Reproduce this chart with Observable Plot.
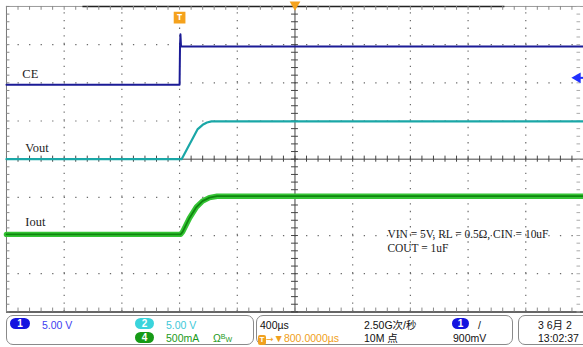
<!DOCTYPE html>
<html><head><meta charset="utf-8">
<script src="https://cdn.jsdelivr.net/npm/d3@7"></script>
<script src="https://cdn.jsdelivr.net/npm/@observablehq/plot@0.6"></script>
<style>
body{margin:0;background:#fff;font-family:"Liberation Sans",Arial,sans-serif;overflow:hidden;}
#wrap{position:relative;width:583px;height:347px;overflow:hidden;}
#chart{position:absolute;left:0;top:0;}
#bar{position:absolute;left:0;top:315px;width:583px;height:32px;font-size:10.5px;}
.box{position:absolute;top:0;height:28px;border:1px solid #8a8a8a;border-radius:7px;}
.t{position:absolute;white-space:nowrap;line-height:12px;}
.badge{position:absolute;height:11px;border-radius:6px;color:#fff;font-weight:bold;text-align:center;line-height:11px;font-size:10px;}
.cjk{font-family:"Liberation Sans","Noto Sans CJK SC",sans-serif;}
</style></head><body>
<div id="wrap">
  <div id="chart"></div>
  <div id="bar">
    <div class="box" style="left:6px;width:246px;"></div>
    <div class="box" style="left:256px;width:255px;"></div>
    <div class="box" style="left:518px;width:90px;"></div>
    <div class="badge" style="left:10px;top:3px;width:20px;background:#1414e0;">1</div>
    <div class="t" style="left:42px;top:4px;color:#4040f0;">5.00 V</div>
    <div class="badge" style="left:135px;top:3px;width:19px;background:#3ad4dc;">2</div>
    <div class="t" style="left:166px;top:4px;color:#3cc8d8;">5.00 V</div>
    <div class="badge" style="left:135px;top:17px;width:19px;background:#169a16;">4</div>
    <div class="t" style="left:166px;top:17px;color:#1a9a1a;">500mA</div>
    <div class="t" style="left:213px;top:16px;color:#1a9a1a;">Ω<span style="font-size:7px;vertical-align:3px;">B</span><span style="font-size:7px;">W</span></div>
    <div class="t" style="left:260px;top:4px;color:#111;">400µs</div>
    <div class="t" style="left:258px;top:17px;color:#f0a020;"><span style="display:inline-block;width:8px;height:10px;background:#f0a020;color:#fff;font-size:8px;line-height:10px;text-align:center;border-radius:2px;font-weight:bold;">T</span><span style="font-family:'DejaVu Sans';font-size:9px;">→</span>▼800.0000µs</div>
    <div class="t cjk" style="left:364px;top:4px;color:#111;">2.50G次/秒</div>
    <div class="t cjk" style="left:364px;top:17px;color:#111;">10M 点</div>
    <div class="badge" style="left:452px;top:3px;width:17px;background:#1414e0;">1</div>
    <div class="t" style="left:478px;top:4px;color:#111;">/</div>
    <div class="t" style="left:453px;top:17px;color:#111;">900mV</div>
    <div class="t cjk" style="left:538px;top:4px;color:#111;">3 6月 2</div>
    <div class="t" style="left:538px;top:17px;color:#111;">13:02:37</div>
  </div>
</div>
<script>
// ---- channel settings ----
const timePerDiv = 400;            // µs / div
const triggerDelay = 800;          // µs (centre of screen)
const ceScale = 5, ceOffset = 1.95;      // V/div, div
const voutScale = 5, voutOffset = 0.0;   // V/div, div
const ioutScale = 500, ioutOffset = -1.97; // mA/div, div
const triggerLevel = 0.9;          // V on CH1

// ---- traces (time in µs relative to trigger) ----
const ceTime = [-1200, 0, 3, 6, 10, 2800];
const ceVolt = [0, 0, 5.0, 6.6, 5.0, 5.0];

const voutTime = [-1200, 14, 124, 160, 190, 221, 2800];
const voutVolt = [0, 0, 3.9, 4.5, 4.8, 4.95, 4.95];

const ioutTime = [-1200, 7, 21, 69, 117, 159, 207, 260, 2800];
const ioutAmp  = [0, 0, 33, 215, 358, 436, 482, 500, 500];

// ---- annotations ----
const labelText = ["CE", "Vout", "Iout"];
const labelT = [-1090, -1069, -1069];
const labelDiv = [2.223, 0.295, -1.634];
const noteText = ["VIN = 5V, RL = 0.5Ω, CIN = 10uF", "COUT = 1uF"];
const noteT = [1441, 1441];
const noteDiv = [-1.975, -2.34];

const ce = ceTime.map((t, i) => ({t, y: ceVolt[i] / ceScale + ceOffset}));
const vout = voutTime.map((t, i) => ({t, y: voutVolt[i] / voutScale + voutOffset}));
const iout = ioutTime.map((t, i) => ({t, y: ioutAmp[i] / ioutScale + ioutOffset}));
const labels = labelText.map((s, i) => ({s, t: labelT[i], y: labelDiv[i]}));
const notes = noteText.map((s, i) => ({s, t: noteT[i], y: noteDiv[i]}));

const xLeft = triggerDelay - 5 * timePerDiv, xRight = triggerDelay + 5 * timePerDiv;
const majorX = d3.range(1, 10).map(k => xLeft + k * timePerDiv).filter(t => t !== triggerDelay);
const majorY = [-3, -2, -1, 1, 2, 3];
const minorX = d3.range(xLeft, xRight + 1, timePerDiv / 5);
const minorY = d3.range(-4, 4.001, 0.2);

const grid = "#6a6a6a", axisC = "#444";
const chart = Plot.plot({
  width: 586, height: 315,
  marginLeft: 6, marginRight: 0, marginTop: 6, marginBottom: 2,
  x: {domain: [xLeft, xRight], axis: null},
  y: {domain: [-4, 4], axis: null},
  style: {background: "#fff", overflow: "visible"},
  marks: [
    Plot.ruleX(majorX, {y1: -4, y2: 4, stroke: grid, strokeWidth: 1.2, strokeDasharray: "1.3,6.375"}),
    Plot.ruleY(majorY, {x1: xLeft, x2: xRight, stroke: grid, strokeWidth: 1.2, strokeDasharray: "1.3,10.3"}),
    // centre axes
    Plot.ruleX([triggerDelay], {y1: -4, y2: 4, stroke: axisC}),
    Plot.ruleY([0], {x1: xLeft, x2: xRight, stroke: axisC}),
    Plot.ruleX(minorX, {y1: -0.08, y2: 0.08, stroke: axisC}),
    Plot.ruleY(minorY, {x1: triggerDelay - 24, x2: triggerDelay + 24, stroke: axisC}),
    // borders
    Plot.ruleX([xLeft], {y1: -4, y2: 4, stroke: "#777"}),
    Plot.ruleY([4], {x1: xLeft, x2: xRight, stroke: "#999"}),
    Plot.ruleY([4], {x1: -670, x2: 2255, stroke: "#222", strokeWidth: 1.5}),
    Plot.ruleY([-4], {x1: xLeft, x2: xRight, stroke: "#333", strokeWidth: 1.5}),
    Plot.ruleY(minorY, {x1: xLeft, x2: xLeft + 24, stroke: "#888"}),
    Plot.ruleY(minorY, {x1: xRight - 45, x2: xRight - 20, stroke: "#aaa"}),
    Plot.ruleX(minorX, {y1: 4, y2: 3.9, stroke: "#888"}),
    Plot.ruleX(minorX, {y1: -4, y2: -3.9, stroke: "#888"}),
    // traces
    Plot.line(ce, {x: "t", y: "y", stroke: "#1b1b96", strokeWidth: 2}),
    Plot.line(vout, {x: "t", y: "y", stroke: "#1aa7a7", strokeWidth: 2.2}),
    Plot.line(iout, {x: "t", y: "y", stroke: "#35c435", strokeWidth: 5.5}),
    Plot.line(iout, {x: "t", y: "y", stroke: "#0f860f", strokeWidth: 1.8}),
    // text labels
    Plot.text(labels, {x: "t", y: "y", text: "s", textAnchor: "start", fontFamily: "Liberation Serif, Times New Roman, serif", fontSize: 12.5, fill: "#222"}),
    Plot.text(notes, {x: "t", y: "y", text: "s", textAnchor: "start", fontFamily: "Liberation Serif, Times New Roman, serif", fontSize: 11.5, fill: "#222"}),
    // markers
    Plot.dot([0], {x: d => d, y: 3.71, symbol: "square", r: 5.8, fill: "#f5a21c", stroke: "#f5a21c"}),
    Plot.text([0], {x: d => d, y: 3.71, text: () => "T", fill: "#fff", fontWeight: "bold", fontSize: 9}),
    Plot.dot([triggerDelay], {x: d => d, y: 4.05, symbol: "triangle", rotate: 180, r: 4, fill: "#f5a21c", stroke: "none"}),
    Plot.dot([xRight - 41], {x: d => d, y: ceOffset + triggerLevel / ceScale, symbol: "triangle", rotate: -90, r: 4, fill: "#2030ff", stroke: "none"}),
    Plot.ruleY([ceOffset + triggerLevel / ceScale], {x1: xRight - 40, x2: xRight, stroke: "#2030ff", strokeWidth: 2})
  ]
});
document.getElementById("chart").appendChild(chart);
</script>
</body></html>
